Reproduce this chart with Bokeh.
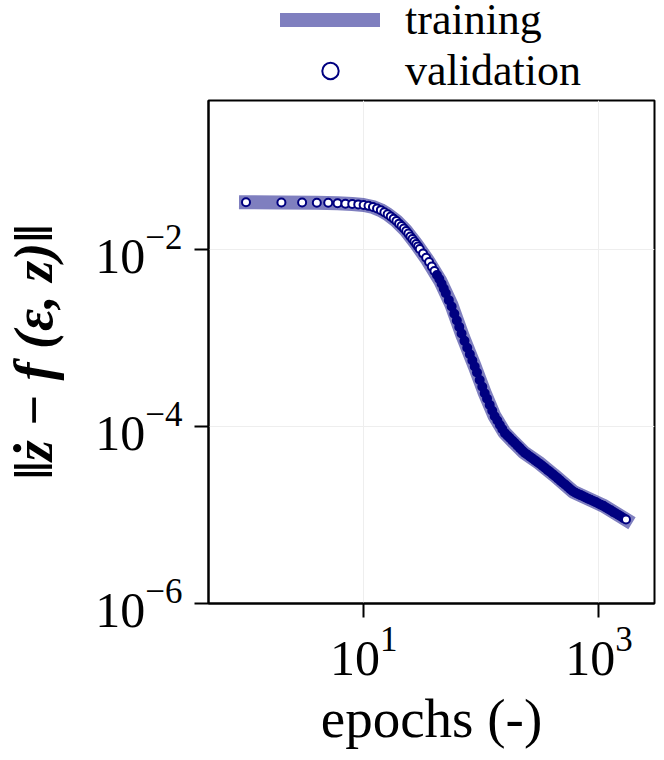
from bokeh.plotting import figure
from bokeh.layouts import column
from bokeh.models import Range1d, FixedTicker, Legend, LegendItem, ColumnDataSource
from bokeh.embed import file_html
from bokeh.resources import INLINE

# ---- data ----
train_epochs = [1, 2, 4, 6, 8, 10, 12, 14, 16, 19, 23, 28, 35, 45, 56, 70, 88,
                107, 129, 157, 190, 231, 309, 413, 608, 1087, 1700]
train_loss = [3.44e-2, 3.42e-2, 3.40e-2, 3.35e-2, 3.28e-2, 3.20e-2, 3.04e-2,
              2.80e-2, 2.52e-2, 2.11e-2, 1.63e-2, 1.16e-2, 7.6e-3, 4.4e-3,
              2.35e-3, 1.03e-3, 4.8e-4, 2.4e-4, 1.33e-4, 8.6e-5, 6.6e-5,
              5.1e-5, 3.9e-5, 2.85e-5, 1.83e-5, 1.28e-5, 8.9e-6]

val_epochs = [1, 2, 3, 4, 5, 6, 7, 8, 9, 10, 11, 12, 13, 14, 15, 16, 17, 18,
              19, 20, 21, 22, 23, 24, 25, 26, 27, 28, 29, 30,
              32, 34, 36, 38, 40, 42, 44, 46, 48, 50, 53, 56, 59, 62, 65, 68,
              72, 76, 80, 84, 88, 92, 97, 102, 107, 112, 118, 124, 130, 137,
              144, 151, 159, 167, 175, 184, 193, 203, 213, 224, 235, 247, 260,
              273, 287, 301, 316, 332, 349, 367, 385, 405, 425, 447, 470, 493,
              518, 545, 572, 601, 632, 664, 698, 733, 770, 810, 851, 894, 940,
              988, 1038, 1091, 1146, 1205, 1266, 1330, 1398, 1469, 1544, 1622,
              1700]
val_loss = [3.44e-2, 3.42e-2, 3.41e-2, 3.40e-2, 3.39e-2, 3.35e-2, 3.31e-2,
            3.28e-2, 3.25e-2, 3.20e-2, 3.13e-2, 3.04e-2, 2.92e-2, 2.80e-2,
            2.65e-2, 2.52e-2, 2.37e-2, 2.24e-2, 2.11e-2, 1.97e-2, 1.85e-2,
            1.74e-2, 1.63e-2, 1.52e-2, 1.41e-2, 1.32e-2, 1.24e-2, 1.16e-2,
            1.09e-2, 1.02e-2,
            9.07e-3, 8.11e-3, 7.26e-3, 6.44e-3, 5.75e-3, 5.17e-3, 4.66e-3,
            4.12e-3, 3.63e-3, 3.21e-3, 2.69e-3, 2.28e-3, 1.89e-3, 1.58e-3,
            1.34e-3, 1.13e-3, 9.32e-4, 7.79e-4, 6.57e-4, 5.59e-4, 4.79e-4,
            4.08e-4, 3.37e-4, 2.82e-4, 2.38e-4, 2.07e-4, 1.76e-4, 1.51e-4,
            1.31e-4, 1.17e-4, 1.04e-4, 9.36e-5, 8.43e-5, 7.90e-5, 7.42e-5,
            6.94e-5, 6.51e-5, 6.09e-5, 5.71e-5, 5.34e-5, 5.04e-5, 4.80e-5,
            4.57e-5, 4.36e-5, 4.15e-5, 3.96e-5, 3.77e-5, 3.58e-5, 3.40e-5,
            3.22e-5, 3.06e-5, 2.90e-5, 2.75e-5, 2.60e-5, 2.45e-5, 2.32e-5,
            2.20e-5, 2.08e-5, 1.96e-5, 1.86e-5, 1.79e-5, 1.73e-5, 1.68e-5,
            1.63e-5, 1.58e-5, 1.53e-5, 1.49e-5, 1.44e-5, 1.40e-5, 1.35e-5,
            1.31e-5, 1.27e-5, 1.22e-5, 1.17e-5, 1.13e-5, 1.08e-5, 1.04e-5,
            1.00e-5, 9.61e-6, 9.23e-6, 8.89e-6]

series_labels = ["training", "validation"]
x_ticks = [10, 1000]
y_ticks = [1e-6, 1e-4, 1e-2]
x_lims = (0.48, 2970)
y_lims = (1e-6, 0.486)

FONT = "Liberation Serif"
TRAIN_STYLE = dict(line_color="navy", line_alpha=0.5, line_width=14, line_cap="square")
VAL_STYLE = dict(marker="circle", size=8, line_color="navy", line_width=2)

# ---------------- main plot ----------------
p = figure(width=656, height=655, x_axis_type="log", y_axis_type="log",
           x_range=Range1d(*x_lims), y_range=Range1d(*y_lims),
           output_backend="svg", toolbar_location=None,
           min_border_left=208, min_border_right=2, min_border_top=3,
           min_border_bottom=149)

p.outline_line_color = "black"
p.outline_line_width = 2
p.outline_line_alpha = 1
p.background_fill_color = "white"
p.border_fill_color = "white"

for ax in (p.xaxis[0], p.yaxis[0]):
    ax.major_label_text_font = FONT
    ax.major_label_text_font_size = "50px"
    ax.major_label_text_color = "black"
    ax.axis_label_text_font = FONT
    ax.axis_label_text_color = "black"
    ax.axis_line_width = 2
    ax.axis_line_color = "black"
    ax.major_tick_line_width = 2
    ax.major_tick_line_color = "black"
    ax.major_tick_out = 14
    ax.major_tick_in = 0
    ax.minor_tick_line_color = None

p.xaxis[0].ticker = FixedTicker(ticks=x_ticks, minor_ticks=[])
p.yaxis[0].ticker = FixedTicker(ticks=y_ticks, minor_ticks=[])
p.xaxis[0].major_label_standoff = 10
p.yaxis[0].major_label_standoff = 12

p.xaxis[0].axis_label = "epochs (-)"
p.xaxis[0].axis_label_text_font_size = "55px"
p.xaxis[0].axis_label_text_font_style = "normal"
p.xaxis[0].axis_label_standoff = 10
p.yaxis[0].axis_label = "\u2016\u017c \u2212 f (\u03b5, z)\u2016"
p.yaxis[0].axis_label_text_font_size = "54px"
p.yaxis[0].axis_label_text_font_style = "bold italic"
p.yaxis[0].axis_label_standoff = 28

p.xgrid.grid_line_color = "#eeeeee"
p.ygrid.grid_line_color = "#eeeeee"

p.line(train_epochs, train_loss, **TRAIN_STYLE)

# where one marker per epoch piles up, the reference shows a solid navy band:
# markers there are filled navy, the sparse early ones and the last stay white
last = val_epochs[-1]
val_fill = ["white" if (e <= 40 or e == last) else "navy" for e in val_epochs]
val_src = ColumnDataSource(dict(x=val_epochs, y=val_loss, fc=val_fill))
p.scatter("x", "y", source=val_src, fill_color="fc", **VAL_STYLE)

# ---------------- legend strip above the plot ----------------
# (its frame is aligned with the main frame by the column layout; the
#  series are drawn again here only so the legend has glyphs to show,
#  the ranges keep them out of view)
pl = figure(width=656, height=97, x_range=Range1d(-2, -1), y_range=Range1d(-2, -1),
            output_backend="svg", toolbar_location=None, min_border=0)
pl.axis.visible = False
pl.grid.visible = False
pl.outline_line_color = None
pl.background_fill_color = "white"
pl.border_fill_color = "white"
lg_train = pl.line(train_epochs, train_loss, **TRAIN_STYLE)
lg_val = pl.scatter(val_epochs, val_loss, fill_color="white", **VAL_STYLE)

legend = Legend(items=[LegendItem(label=series_labels[0], renderers=[lg_train]),
                       LegendItem(label=series_labels[1], renderers=[lg_val])],
                location=(72, 1), orientation="vertical")
legend.label_text_font = FONT
legend.label_text_font_size = "44px"
legend.label_text_line_height = 1.0
legend.label_text_color = "black"
legend.glyph_width = 100
legend.glyph_height = 41
legend.label_height = 41
legend.label_standoff = 25
legend.spacing = 0
legend.padding = 0
legend.margin = 0
legend.border_line_color = None
legend.background_fill_alpha = 0
pl.add_layout(legend)

layout = column(pl, p, spacing=0)
open("out.html", "w").write(file_html(layout, INLINE))
